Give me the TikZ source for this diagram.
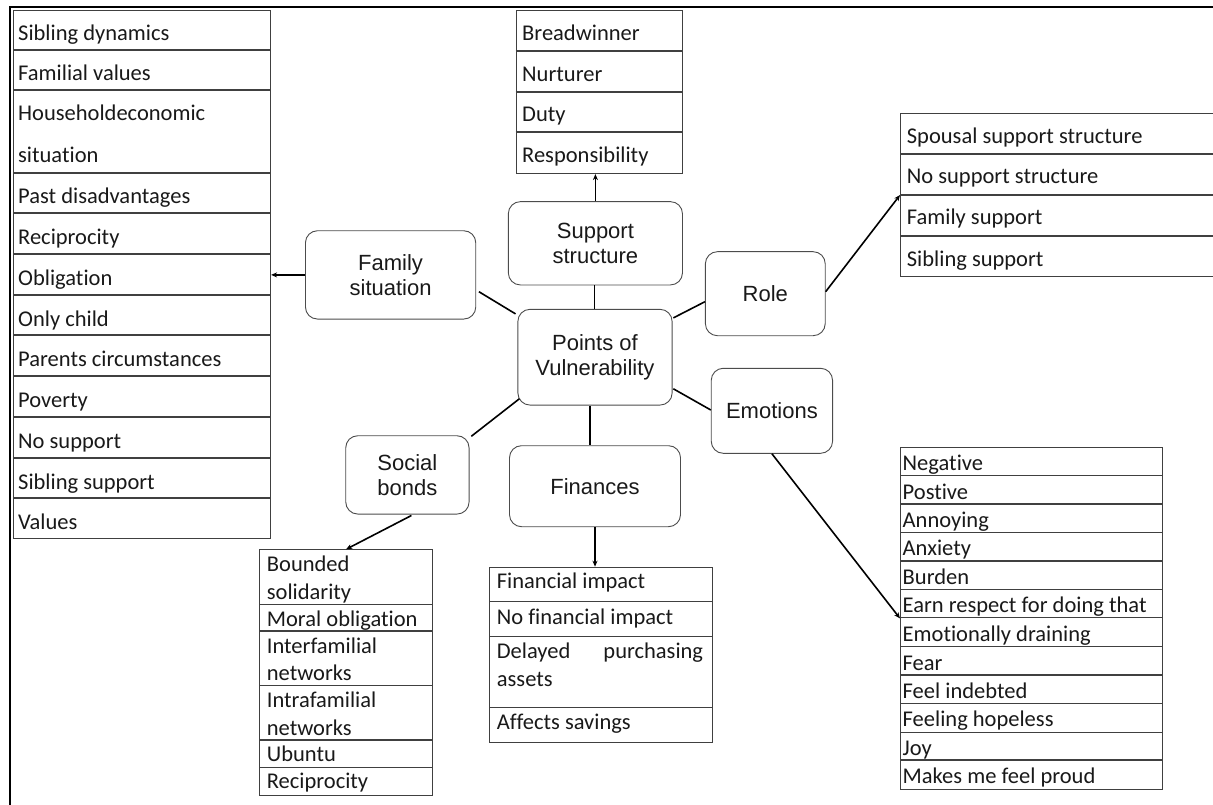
\documentclass[tikz,border=0pt]{standalone}
\usepackage{fontspec}
\setmainfont{Carlito}[Ligatures=NoCommon]
\newfontfamily\boxfont{Liberation Sans}
\usetikzlibrary{arrows.meta,calc}
\begin{document}
\begin{tikzpicture}[x=1pt,y=-1pt,
  box/.style={draw=black!70, line width=0.9pt, rounded corners=12pt, font=\boxfont\fontsize{22}{25.5}\selectfont, align=center, text=black!90, inner sep=0pt},
  tbl/.style={draw=black!75, line width=1.1pt, inner sep=0pt, anchor=north west},
  rowline/.style={draw=black!75, line width=1.1pt},
  cell/.style={anchor=base west, inner sep=0pt, font=\fontsize{22.5}{26}\selectfont, text=black!90},
  conn/.style={line width=1.6pt},
  arr/.style={line width=1.6pt, -{Stealth[length=6pt,width=5pt]}}]
\useasboundingbox (0,0) rectangle (1213,805);

% outer frame
\draw[line width=1.5pt] (10,805) -- (10,7) -- (1213,7);

% concept boxes
\node[box, minimum width=170.3pt, minimum height=88.3pt] (fam) at (390.6,274.9) {Family\\situation};
\node[box, minimum width=174.1pt, minimum height=83.3pt] (sup) at (595.4,243.3) {Support\\structure};
\node[box, minimum width=119.8pt, minimum height=84pt] (role) at (765.3,293.7) {Role};
\node[box, minimum width=154.2pt, minimum height=95.7pt] (pov) at (595,357.2) {Points of\\Vulnerability};
\node[box, minimum width=121.3pt, minimum height=85pt] (emo) at (771.9,410.8) {Emotions};
\node[box, minimum width=123.3pt, minimum height=78.3pt] (soc) at (407.4,474.9) {Social\\bonds};
\node[box, minimum width=171pt, minimum height=81pt] (fin) at (595,486.2) {Finances};

% family situation table
\node[tbl, minimum width=257pt, minimum height=528pt] (ft) at (13,10) {};
\foreach \y in {50,90,173,213,254,295,335,376,417,458,498}
  \draw[rowline] (13,\y) -- (270,\y);
\foreach \t/\b [count=\i] in {Sibling dynamics/41, Familial values/81, Householdeconomic/121, situation/163, Past disadvantages/204, Reciprocity/244.5, Obligation/285, Only child/326, Parents circumstances/366, Poverty/407, No support/448, Sibling support/489, Values/529}
  \node[cell] (ft\i) at (18,\b) {\t};

% support structure table
\node[tbl, minimum width=166pt, minimum height=163pt] (st) at (515.7,10) {};
\foreach \y in {51,92,132}
  \draw[rowline] (515.7,\y) -- (681.7,\y);
\foreach \t/\b [count=\i] in {Breadwinner/40.5, Nurturer/81.5, Duty/122, Responsibility/162.5}
  \node[cell] (st\i) at (522,\b) {\t};

% role table
\node[tbl, minimum width=320pt, minimum height=163pt] (rt) at (900,113) {};
\foreach \y in {154,195,236}
  \draw[rowline] (900,\y) -- (1220,\y);
\foreach \t/\b [count=\i] in {Spousal support structure/143.3, No support structure/184, Family support/225, Sibling support/266}
  \node[cell] (rt\i) at (906.7,\b) {\t};

% social bonds table
\node[tbl, minimum width=172.4pt, minimum height=245.7pt] (sbt) at (259.3,549.3) {};
\foreach \y in {604.3,631,685.7,740,767.3}
  \draw[rowline] (259.3,\y) -- (431.7,\y);
\foreach \t/\b [count=\i] in {Bounded/571.7, solidarity/599.3, Moral obligation/626, Interfamilial/653.3, networks/680, Intrafamilial/707.3, networks/735, Ubuntu/761.7, Reciprocity/788.3}
  \node[cell] (sbt\i) at (266.7,\b) {\t};

% finances table
\node[tbl, minimum width=222.4pt, minimum height=175.6pt] (fit) at (489.3,566.7) {};
\foreach \y in {601.7,636.7,707.3}
  \draw[rowline] (489.3,\y) -- (711.7,\y);
\node[cell] (fit1) at (496.7,588.3) {Financial impact};
\node[cell] (fit2) at (496.7,624) {No financial impact};
\node[cell] (fit3) at (496.7,658.3) {Delayed};
\node[cell, anchor=base east] (fit4) at (703.3,658.3) {purchasing};
\node[cell] (fit5) at (496.7,686) {assets};
\node[cell] (fit6) at (496.7,729) {Affects savings};

% emotions table
\node[tbl, minimum width=262.3pt, minimum height=342.3pt] (et) at (900,446.7) {};
\foreach \y in {475.7,504,532.3,561,589.3,617.7,646.7,675,703.3,732.3,760}
  \draw[rowline] (900,\y) -- (1162.3,\y);
\foreach \t/\b [count=\i] in {Negative/470, Postive/499, Annoying/527.3, Anxiety/555.6, Burden/584.3, Earn respect for doing that/612.6, Emotionally draining/641, Fear/670, Feel indebted/698.3, Feeling hopeless/726.6, Joy/755.6, Makes me feel proud/783.3}
  \node[cell] (et\i) at (902.5,\b) {\t};

% connectors to the centre
\draw[conn] ($(fam.east)+(2.7,16.8)$) -- ($(pov.north west)+(-1.9,5)$);
\draw[conn] ($(sup.south)+(-1,0)$) -- ($(sup.south |- pov.north)+(-1,0)$);
\draw[conn] ($(role.west)+(0,8)$) -- ($(pov.north east)+(0.8,9)$);
\draw[conn] ($(emo.west)+(0,-0.8)$) -- ($(pov.south east)+(0.8,-16.7)$);
\draw[conn] ($(soc.north east)+(1.8,1)$) -- ($(pov.south west)+(1.9,-6.7)$);
\draw[conn] ($(pov.south)+(-5,0)$) -- ($(fin.north)+(-5,0)$);

% arrows to the tables
\draw[arr] (fam.west) -- (fam.west -| ft.east);
\draw[arr] (sup.north) -- (sup.north |- st.south);
\draw[arr] ($(role.east)+(0,-2)$) -- (rt.west);
\draw[arr] (emo.south) -- (et.west);
\draw[arr] ($(soc.south)+(4,1)$) -- (sbt.north);
\draw[arr] (fin.south) -- (fin.south |- fit.north);
\end{tikzpicture}
\end{document}
